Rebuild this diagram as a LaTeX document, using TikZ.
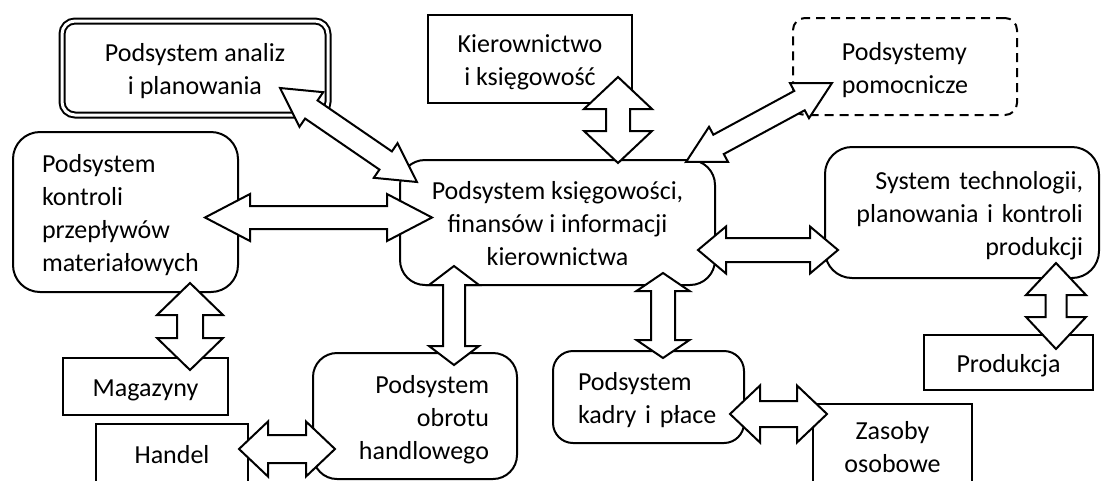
\documentclass[tikz,border=0pt]{standalone}
\usepackage{fontspec}
\setmainfont{Carlito}
\usetikzlibrary{calc}

% Block double arrow between two named coordinates:
% #1 start, #2 end, #3 half shaft width, #4 half head width, #5 head length
\newcommand\blockarrow[5]{%
  \pgfpointdiff{\pgfpointanchor{#1}{center}}{\pgfpointanchor{#2}{center}}%
  \pgfgetlastxy{\bax}{\bay}%
  \pgfmathsetmacro\balen{veclen(\bax,\bay)}%
  \pgfmathsetmacro\baang{atan2(\bay,\bax)}%
  \begin{scope}[shift={(#1)}, rotate=\baang]
    \draw[flowarrow] (0,0) -- (#5,#4) -- (#5,#3) -- (\balen-#5,#3) -- (\balen-#5,#4)
      -- (\balen,0) -- (\balen-#5,-#4) -- (\balen-#5,-#3) -- (#5,-#3) -- (#5,-#4) -- cycle;
  \end{scope}}

% Box text: lines set as a one-column table, set a little lower than centre
\newcommand\boxlines[2]{%
  \raisebox{-3.5pt}[\height][\depth]{\begin{tabular}{@{}#1@{}}#2\end{tabular}}}

\tikzset{
  box/.style={draw, line width=2pt, font=\fontsize{26}{33}\selectfont, inner sep=0pt},
  roundbox/.style={box, rounded corners=#1},
  roundbox/.default=24pt,
  flowarrow/.style={draw, fill=white, line width=2pt, line join=miter},
}

\begin{document}
\begin{tikzpicture}[x=1pt, y=-1pt]
\useasboundingbox (0,0) rectangle (1102,480);
\clip (0,0) rectangle (1102,480);
\fill[white] (0,0) rectangle (1102,480);

% subsystems
\node[box, rounded corners=13pt, double, double distance=3pt, minimum width=266pt, minimum height=94pt]
  (analiz) at (195,68) {\boxlines{c}{Podsystem analiz\\i planowania}};
\node[box, minimum width=204pt, minimum height=88pt]
  (kier) at (530,59) {\boxlines{c}{Kierownictwo\\i księgowość}};
\node[roundbox=12pt, dash pattern=on 9pt off 6pt, minimum width=224pt, minimum height=97pt]
  (pomoc) at (905,66.5) {\boxlines{l}{Podsystemy\\pomocnicze}};
\node[roundbox=27pt, minimum width=225pt, minimum height=160pt, text width=167pt, inner xsep=29pt, align=left]
  (kontrola) at (125.5,212) {\boxlines{l}{Podsystem\\kontroli\\przepływów\\materiałowych}};
\node[roundbox=25pt, minimum width=315pt, minimum height=125pt]
  (centrum) at (557.5,222.5) {\boxlines{c}{Podsystem księgowości,\\finansów i informacji\\kierownictwa}};
\node[roundbox=27pt, minimum width=274pt, minimum height=131pt, text width=242pt, inner xsep=16pt, align=right]
  (tech) at (962,212.5) {\boxlines{r}{System technologii,\\planowania i kontroli\\produkcji}};
\node[box, minimum width=165pt, minimum height=57pt]
  (magazyny) at (145.5,386.5) {\boxlines{c}{Magazyny}};
\node[box, minimum width=152pt, minimum height=58pt]
  (handel) at (172,453) {\boxlines{c}{Handel}};
\node[roundbox=24pt, minimum width=204pt, minimum height=126pt, text width=148pt, inner xsep=28pt, align=right]
  (obrot) at (415,416) {\boxlines{r}{Podsystem\\obrotu\\handlowego}};
\node[roundbox=20pt, minimum width=191pt, minimum height=92pt, text width=141pt, inner xsep=25pt, align=left]
  (kadry) at (648.5,397) {\boxlines{l}{Podsystem\\kadry i płace}};
\node[box, minimum width=159pt, minimum height=84pt]
  (zasoby) at (892.5,446) {\boxlines{c}{Zasoby\\osobowe}};
\node[box, minimum width=169pt, minimum height=55pt]
  (produkcja) at (1008.5,362.5) {\boxlines{c}{Produkcja}};

% arrow tips
\coordinate (analiz-c) at (280,88);   \coordinate (centrum-a) at (417,182);
\coordinate (kier-c) at (618,77);     \coordinate (centrum-k) at (618,163);
\coordinate (pomoc-c) at (832,83);    \coordinate (centrum-p) at (686,162);
\coordinate (kontrola-c) at (205,217.5); \coordinate (centrum-l) at (432,217.5);
\coordinate (centrum-t) at (698,250); \coordinate (tech-c) at (838,250);
\coordinate (kontrola-m) at (190,283); \coordinate (magazyny-k) at (190,370);
\coordinate (centrum-o) at (454,266); \coordinate (obrot-c) at (454,365);
\coordinate (centrum-d) at (663,273); \coordinate (kadry-c) at (663,358);
\coordinate (handel-o) at (239,449);  \coordinate (obrot-h) at (335,449);
\coordinate (kadry-z) at (730,414);   \coordinate (zasoby-k) at (827,414);
\coordinate (tech-p) at (1056,263);   \coordinate (produkcja-t) at (1056,349);

% connections
\blockarrow{analiz-c}{centrum-a}{11}{21}{38}
\blockarrow{kier-c}{centrum-k}{12}{34}{32}
\blockarrow{pomoc-c}{centrum-p}{11}{20}{37}
\blockarrow{kontrola-c}{centrum-l}{11.5}{23.5}{45}
\blockarrow{centrum-t}{tech-c}{12}{23.5}{28}
\blockarrow{kontrola-m}{magazyny-k}{13}{33}{32}
\blockarrow{centrum-o}{obrot-c}{11}{25}{19}
\blockarrow{centrum-d}{kadry-c}{12}{26.5}{18}
\blockarrow{handel-o}{obrot-h}{14}{27.5}{29}
\blockarrow{kadry-z}{zasoby-k}{13}{28.5}{30}
\blockarrow{tech-p}{produkcja-t}{10.5}{30}{32}
\end{tikzpicture}
\end{document}
